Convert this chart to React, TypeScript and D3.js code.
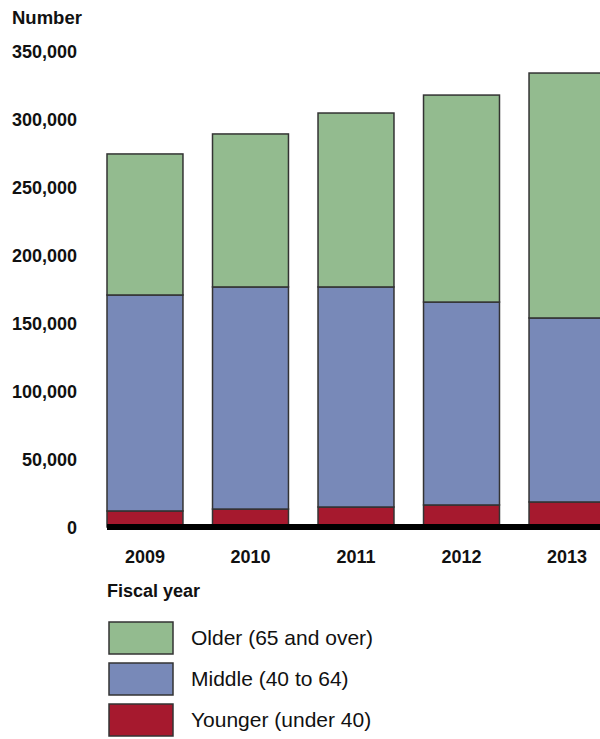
import React, { useEffect, useRef } from 'react';
import * as d3 from 'd3';

const years = ['2009', '2010', '2011', '2012', '2013'];
const younger = [11800, 13200, 14700, 16200, 18400];
const middle = [158800, 163300, 161800, 149200, 135300];
const older = [103700, 112500, 127900, 152200, 180100];
const yTicks = [0, 50000, 100000, 150000, 200000, 250000, 300000, 350000];

const seriesKeys = ['younger', 'middle', 'older'];
const seriesLabels: Record<string, string> = {
  older: 'Older (65 and over)',
  middle: 'Middle (40 to 64)',
  younger: 'Younger (under 40)',
};
const colors: Record<string, string> = {
  younger: '#a6192e',
  middle: '#7889b8',
  older: '#93bb8f',
};

const width = 600;
const height = 739;
const font = '"Liberation Sans", Arial, Helvetica, sans-serif';

const App: React.FC = () => {
  const svgRef = useRef<SVGSVGElement>(null);

  useEffect(() => {
    if (!svgRef.current) return;
    const svg = d3.select(svgRef.current);
    svg.selectAll('*').remove();

    const rows = years.map((y, i) => ({
      year: y,
      younger: younger[i],
      middle: middle[i],
      older: older[i],
    }));

    const x = d3.scaleBand<string>()
      .domain(years)
      .range([107, 605])
      .paddingInner(0.28)
      .paddingOuter(0);

    const y = d3.scaleLinear()
      .domain([0, 350000])
      .range([527, 51]);

    const stacked = d3.stack<any>().keys(seriesKeys)(rows);

    // bars
    stacked.forEach(layer => {
      svg.append('g')
        .selectAll('rect')
        .data(layer)
        .join('rect')
        .attr('x', d => x(d.data.year)!)
        .attr('width', x.bandwidth())
        .attr('y', d => y(d[1]))
        .attr('height', d => y(d[0]) - y(d[1]))
        .attr('fill', colors[layer.key])
        .attr('stroke', '#333')
        .attr('stroke-width', 1.5);
    });

    // thick baseline
    svg.append('rect')
      .attr('x', 107)
      .attr('y', y(0) - 3)
      .attr('width', width - 107)
      .attr('height', 6)
      .attr('fill', '#000');

    // y tick labels
    svg.append('g')
      .selectAll('text')
      .data(yTicks)
      .join('text')
      .attr('x', 77)
      .attr('y', d => y(d) + 1)
      .attr('dy', '0.35em')
      .attr('text-anchor', 'end')
      .attr('font-family', font)
      .attr('font-weight', 'bold')
      .attr('font-size', 18)
      .attr('fill', '#111')
      .text(d => d3.format(',')(d));

    svg.append('text')
      .attr('x', 12)
      .attr('y', 24)
      .attr('font-family', font)
      .attr('font-weight', 'bold')
      .attr('font-size', 18.5)
      .attr('fill', '#111')
      .text('Number');

    // x labels
    svg.append('g')
      .selectAll('text')
      .data(years)
      .join('text')
      .attr('x', d => x(d)! + x.bandwidth() / 2)
      .attr('y', 563)
      .attr('text-anchor', 'middle')
      .attr('font-family', font)
      .attr('font-weight', 'bold')
      .attr('font-size', 18)
      .attr('fill', '#111')
      .text(d => d);

    svg.append('text')
      .attr('x', 107)
      .attr('y', 597)
      .attr('font-family', font)
      .attr('font-weight', 'bold')
      .attr('font-size', 18)
      .attr('fill', '#111')
      .text('Fiscal year');

    // legend
    const legendOrder = ['older', 'middle', 'younger'];
    const legend = svg.append('g');
    legendOrder.forEach((k, i) => {
      const top = 622 + i * 41;
      legend.append('rect')
        .attr('x', 109)
        .attr('y', top)
        .attr('width', 64)
        .attr('height', 32)
        .attr('fill', colors[k])
        .attr('stroke', '#333')
        .attr('stroke-width', 1.5);
      legend.append('text')
        .attr('x', 191)
        .attr('y', top + 16)
        .attr('dy', '0.35em')
        .attr('font-family', font)
        .attr('font-size', 21)
        .attr('fill', '#111')
        .text(seriesLabels[k]);
    });
  }, []);

  return (
    <svg
      ref={svgRef}
      width={width}
      height={height}
      style={{ position: 'absolute', left: 0, top: 0, background: '#fff' }}
    />
  );
};

export default App;
